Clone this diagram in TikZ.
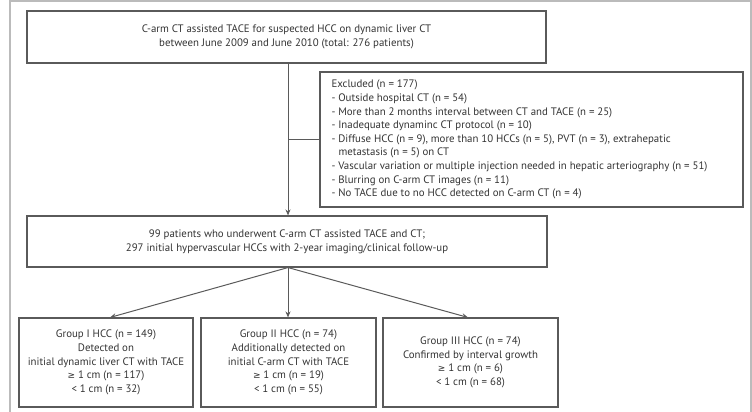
\documentclass[tikz,border=0pt]{standalone}
\usepackage{fontspec}
\setmainfont{PT Sans}
\newfontfamily\symfont{DejaVu Sans}
\usetikzlibrary{arrows.meta,calc}
\definecolor{linec}{HTML}{5A5A5A}
\definecolor{textc}{HTML}{333333}
\definecolor{framec}{HTML}{BBBBBB}
\begin{document}
\begin{tikzpicture}[x=1pt,y=-1pt,
  box/.style={draw=linec,line width=1.1pt,text=textc,inner sep=0pt,align=center,
    font=\fontsize{10.85}{13.6}\selectfont},
  arr/.style={draw=linec,line width=1pt,-{Stealth[length=6pt,width=5pt]}},
  conn/.style={draw=linec,line width=1pt}]
\useasboundingbox (0,0) rectangle (752,412);
\draw[framec,line width=1.6pt] (10,430) -- (10,1) -- (751,1) -- (751,430);
\node[box,minimum width=519pt,minimum height=52pt] (top) at (286.5,37)
  {C-arm CT assisted TACE for suspected HCC on dynamic liver CT\\between June 2009 and June 2010 (total: 276 patients)};
\node[box,minimum width=423pt,minimum height=135pt] (excl) at (531.5,139.5)
  {\makebox[400pt][l]{\renewcommand{\arraystretch}{1}\begin{tabular}{@{}l@{}}
  Excluded (n = 177)\\
  - Outside hospital CT (n = 54)\\
  - More than 2 months interval between CT and TACE (n = 25)\\
  - Inadequate dynaminc CT protocol (n = 10)\\
  - Diffuse HCC (n = 9), more than 10 HCCs (n = 5), PVT (n = 3), extrahepatic\\
  \hspace{7pt}metastasis (n = 5) on CT\\
  - Vascular variation or multiple injection needed in hepatic arteriography (n = 51)\\
  - Blurring on C-arm CT images (n = 11)\\
  - No TACE due to no HCC detected on C-arm CT (n = 4)
  \end{tabular}}};
\node[box,minimum width=520pt,minimum height=51pt] (mid) at (287,241.5)
  {99 patients who underwent C-arm CT assisted TACE and CT;\\297 initial hypervascular HCCs with 2-year imaging/clinical follow-up};
\node[box,minimum width=174pt,minimum height=89pt] (g1) at (106,362.5)
  {Group I HCC (n = 149)\\Detected on\\initial dynamic liver CT with TACE\\{\symfont\small ≥} 1 cm (n = 117)\\< 1 cm (n = 32)};
\node[box,minimum width=175pt,minimum height=89pt] (g2) at (288.5,362.5)
  {Group II HCC (n = 74)\\Additionally detected on\\initial C-arm CT with TACE\\{\symfont\small ≥} 1 cm (n = 19)\\< 1 cm (n = 55)};
\node[box,minimum width=175pt,minimum height=89pt] (g3) at (470.5,362.5)
  {Group III HCC (n = 74)\\Confirmed by interval growth\\{\symfont\small ≥} 1 cm (n = 6)\\< 1 cm (n = 68)};
\coordinate (split) at (top.south -| 288,0);
\coordinate (midin) at (mid.north -| 288,0);
\coordinate (midout) at (mid.south -| 288,0);
\draw[arr] (split) -- (midin);
\draw[conn] (excl.west) -- (excl.west -| split);
\draw[arr] (midout) -- ($(g1.north)+(4,0)$);
\draw[arr] (midout) -- (g2.north -| midout);
\draw[arr] (midout) -- ($(g3.north)+(-2.5,0)$);
\end{tikzpicture}
\end{document}
